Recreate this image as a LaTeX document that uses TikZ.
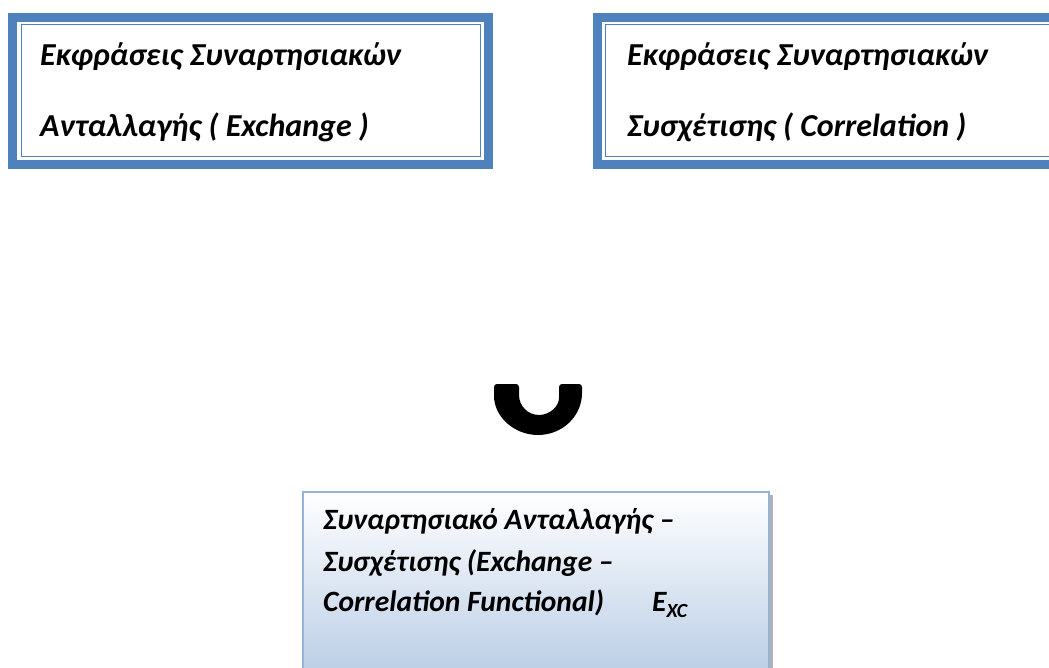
\documentclass[tikz,border=0pt]{standalone}
\usepackage{fontspec}
\setmainfont{Carlito}
\definecolor{band}{RGB}{79,129,189}
\definecolor{lightbord}{RGB}{149,179,215}
\definecolor{boxbot}{RGB}{184,204,228}
\tikzset{
  txt/.style={anchor=base west, inner sep=0pt, font=\fontsize{32}{36}\selectfont\bfseries\itshape},
  btxt/.style={anchor=base west, inner sep=0pt, font=\fontsize{29.5}{34}\selectfont\bfseries\itshape},
  bandline/.style={draw=band, line width=9pt},
  thinline/.style={draw=band, line width=1.6pt},
}
\begin{document}
\begin{tikzpicture}[x=1pt,y=1pt]
\useasboundingbox (0,0) rectangle (1049,-668);
\clip (0,0) rectangle (1049,-668);
% left box
\draw[bandline] (12.5,-17.5) rectangle (488.5,-164.5);
\draw[thinline] (21.5,-24.5) rectangle (480.5,-156.5);
\node[txt] (l1) at (40,-66) {Εκφράσεις Συναρτησιακών};
\node[txt] (l2) at (40,-137) {Ανταλλαγής ( Exchange )};
% right box
\draw[bandline] (597.5,-17.5) rectangle (1070,-164.5);
\draw[thinline] (605.5,-24.5) rectangle (1060,-156.5);
\node[txt] (r1) at (627,-66) {Εκφράσεις Συναρτησιακών};
\node[txt] (r2) at (627,-137) {Συσχέτισης ( Correlation )};
% U shape
\fill[black, rounded corners=3pt] (494,-384) -- (494,-393)
  [sharp corners] arc[start angle=180, end angle=360, x radius=44pt, y radius=42pt]
  [rounded corners=3pt] -- (582,-384) -- (559,-384) -- (559,-395)
  [sharp corners] arc[start angle=0, end angle=-180, x radius=20pt, y radius=20pt]
  [rounded corners=3pt] -- (519,-384) -- cycle;
% bottom box
\fill[gray!60] (769,-495) rectangle (773,-680);
\shade[top color=white, bottom color=boxbot, draw=lightbord, line width=1.5pt] (303,-492) rectangle (769,-680);
\node[btxt] (b1) at (323,-529) {Συναρτησιακό Ανταλλαγής –};
\node[btxt] (b2) at (323,-571) {Συσχέτισης (Exchange –};
\node[btxt] (b3) at (323,-611) {Correlation Functional)};
\node[btxt] (b4) at (652,-611) {E\raisebox{-6pt}{\fontsize{20}{20}\selectfont XC}};
\end{tikzpicture}
\end{document}
